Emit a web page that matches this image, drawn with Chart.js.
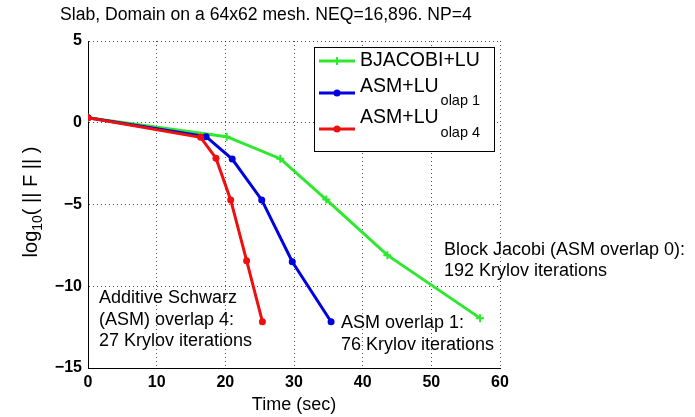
<!DOCTYPE html>
<html>
<head>
<meta charset="utf-8">
<script src="https://cdn.jsdelivr.net/npm/chart.js@4/dist/chart.umd.min.js"></script>
<style>
  html, body { margin: 0; padding: 0; background: #fff; }
  #wrap { width: 695px; height: 417px; position: relative; }
</style>
</head>
<body>
<div id="wrap"><canvas id="chart"></canvas></div>
<script>
// ── Data ────────────────────────────────────────────────────────────────────
const bjTime  = [0, 20.2, 28.0, 34.7, 43.6, 57.1];
const bjResid = [0.3, -0.85, -2.2, -4.7, -8.1, -11.95];

const olap1Time  = [0, 17.2, 21.0, 25.3, 29.75, 35.4];
const olap1Resid = [0.3, -0.85, -2.22, -4.72, -8.5, -12.17];

const olap4Time  = [0, 16.4, 18.64, 20.78, 23.1, 25.4];
const olap4Resid = [0.3, -0.89, -2.17, -4.72, -8.44, -12.17];

const xTicks = [0, 10, 20, 30, 40, 50, 60];
const yTicks = [-15, -10, -5, 0, 5];

const titleText = 'Slab, Domain on a 64x62 mesh. NEQ=16,896. NP=4';

const GREEN = '#2ee82e';
const BLUE = '#0000e0';
const RED = '#ee1010';
const FONT = '"Liberation Sans", Arial, Helvetica, sans-serif';

const pts = (xs, ys) => xs.map((x, i) => ({ x, y: ys[i] }));

// ── Extra text: title, axis labels, legend, notes ───────────────────────────
const textPlugin = {
  id: 'textPlugin',
  afterDraw(chart) {
    const ctx = chart.ctx;
    const area = chart.chartArea;
    ctx.save();
    ctx.fillStyle = '#000';
    ctx.textBaseline = 'middle';

    // title
    ctx.font = `17.6px ${FONT}`;
    ctx.textAlign = 'left';
    ctx.fillText(titleText, 60, 15);

    // x axis label
    ctx.font = `18px ${FONT}`;
    ctx.textAlign = 'center';
    ctx.fillText('Time (sec)', (area.left + area.right) / 2, 405);

    // y axis label with subscript
    ctx.save();
    ctx.translate(31, 202);
    ctx.rotate(-Math.PI / 2);
    ctx.textAlign = 'left';
    const p1 = 'log', p2 = '10', p3 = '( || F || )';
    ctx.font = `20px ${FONT}`;
    const w1 = ctx.measureText(p1).width;
    const w3 = ctx.measureText(p3).width;
    ctx.font = `14px ${FONT}`;
    const w2 = ctx.measureText(p2).width;
    const x0 = -(w1 + w2 + w3) / 2;
    ctx.font = `20px ${FONT}`;
    ctx.fillText(p1, x0, 0);
    ctx.font = `14px ${FONT}`;
    ctx.fillText(p2, x0 + w1, 7);
    ctx.font = `20px ${FONT}`;
    ctx.fillText(p3, x0 + w1 + w2, 0);
    ctx.restore();

    // legend box
    const lx = 314, ly = 47, lw = 180, lh = 104;
    ctx.fillStyle = '#fff';
    ctx.fillRect(lx, ly, lw, lh);
    ctx.strokeStyle = '#000';
    ctx.lineWidth = 1;
    ctx.strokeRect(lx + 0.5, ly + 0.5, lw, lh);

    const rows = [
      { color: GREEN, style: 'cross', lineY: 61, label: 'BJACOBI+LU', labelY: 61, sub: null },
      { color: BLUE, style: 'circle', lineY: 93, label: 'ASM+LU', labelY: 87, sub: 'olap 1', subY: 101 },
      { color: RED, style: 'circle', lineY: 129, label: 'ASM+LU', labelY: 118, sub: 'olap 4', subY: 133 }
    ];
    rows.forEach(r => {
      ctx.strokeStyle = r.color;
      ctx.fillStyle = r.color;
      ctx.lineWidth = 3;
      ctx.beginPath();
      ctx.moveTo(319, r.lineY);
      ctx.lineTo(355, r.lineY);
      ctx.stroke();
      if (r.style === 'circle') {
        ctx.beginPath();
        ctx.arc(337, r.lineY, 3.5, 0, Math.PI * 2);
        ctx.fill();
      } else {
        ctx.lineWidth = 2;
        ctx.beginPath();
        ctx.moveTo(333, r.lineY); ctx.lineTo(341, r.lineY);
        ctx.moveTo(337, r.lineY - 4); ctx.lineTo(337, r.lineY + 4);
        ctx.stroke();
      }
      ctx.fillStyle = '#000';
      ctx.textAlign = 'left';
      ctx.font = `19.5px ${FONT}`;
      ctx.fillText(r.label, 360, r.labelY);
      if (r.sub) {
        const w = ctx.measureText(r.label).width;
        ctx.font = `14.5px ${FONT}`;
        ctx.fillText(r.sub, 360 + w + 2, r.subY);
      }
    });

    // notes
    ctx.fillStyle = '#000';
    ctx.font = `18px ${FONT}`;
    ctx.textAlign = 'left';
    const notes = [
      ['Additive Schwarz', 99, 298],
      ['(ASM) overlap 4:', 99, 320],
      ['27 Krylov iterations', 99, 341],
      ['ASM overlap 1:', 341, 323],
      ['76 Krylov iterations', 341, 345],
      ['Block Jacobi (ASM overlap 0):', 444, 250],
      ['192 Krylov iterations', 444, 271]
    ];
    notes.forEach(([t, x, y]) => ctx.fillText(t, x, y));
    ctx.restore();
  }
};

// ── Chart ───────────────────────────────────────────────────────────────────
// in v4, border.dash sets the dash of the grid lines; the axis line stays solid
const dotGrid = { color: 'rgba(0,0,0,0.7)', lineWidth: 1, drawTicks: false };
const axisBorder = { display: true, color: '#000', width: 1, dash: [1, 3] };

new Chart(document.getElementById('chart'), {
  type: 'scatter',
  data: {
    datasets: [
      {
        label: 'BJACOBI+LU',
        data: pts(bjTime, bjResid),
        showLine: true,
        borderColor: GREEN,
        backgroundColor: GREEN,
        borderWidth: 3,
        pointStyle: 'cross',
        pointRadius: 4,
        pointBorderWidth: 2,
        order: 3
      },
      {
        label: 'ASM+LU olap 1',
        data: pts(olap1Time, olap1Resid),
        showLine: true,
        borderColor: BLUE,
        backgroundColor: BLUE,
        borderWidth: 3,
        pointStyle: 'circle',
        pointRadius: 3.5,
        pointBorderWidth: 0,
        order: 2
      },
      {
        label: 'ASM+LU olap 4',
        data: pts(olap4Time, olap4Resid),
        showLine: true,
        borderColor: RED,
        backgroundColor: RED,
        borderWidth: 3,
        pointStyle: 'circle',
        pointRadius: 3.5,
        pointBorderWidth: 0,
        order: 1
      }
    ]
  },
  options: {
    responsive: true,
    maintainAspectRatio: false,
    animation: false,
    layout: { padding: { left: 30, right: 195, top: 41, bottom: 0 } },
    plugins: {
      legend: { display: false },
      tooltip: { enabled: false },
      title: { display: false }
    },
    scales: {
      x: {
        type: 'linear',
        min: 0,
        max: 60,
        afterBuildTicks: s => { s.ticks = xTicks.map(v => ({ value: v })); },
        afterFit: s => { s.height = 49; },
        ticks: {
          color: '#000',
          font: { family: FONT, size: 16, weight: 'bold' },
          padding: 5,
          maxRotation: 0,
          callback: v => String(v)
        },
        grid: dotGrid,
        border: axisBorder
      },
      y: {
        type: 'linear',
        min: -15,
        max: 5,
        afterBuildTicks: s => { s.ticks = yTicks.map(v => ({ value: v })); },
        afterFit: s => { s.width = 58; },
        ticks: {
          color: '#000',
          font: { family: FONT, size: 16, weight: 'bold' },
          padding: 6,
          callback: v => String(v).replace('-', '\u2212')
        },
        grid: dotGrid,
        border: axisBorder
      }
    }
  },
  plugins: [textPlugin]
});
</script>
</body>
</html>
